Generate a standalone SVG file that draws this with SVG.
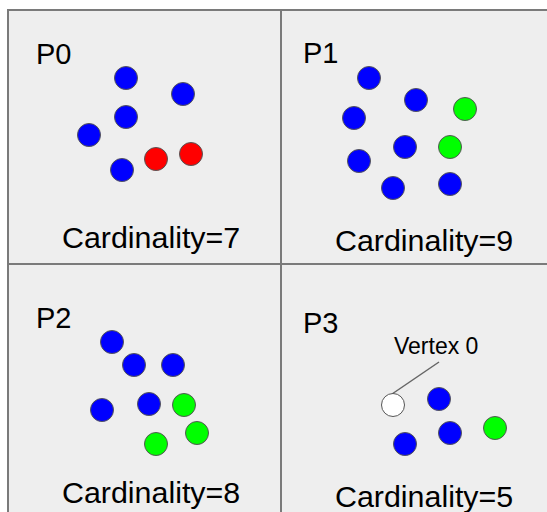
<svg xmlns="http://www.w3.org/2000/svg" width="547" height="512" viewBox="0 0 547 512">
<style>
.frame{fill:#eeeeee;stroke:#7a7a7a;stroke-width:2}
.div{stroke:#7a7a7a;stroke-width:2;fill:none}
.v{stroke:#555555;stroke-width:1}
.b{fill:#0000ff}
.r{fill:#ff0000}
.g{fill:#00ff00}
.w{fill:#ffffff}
.lbl{font-family:"Liberation Sans",Arial,sans-serif;font-size:29px;fill:#000}
.card{font-family:"Liberation Sans",Arial,sans-serif;font-size:30.4px;fill:#000}
.note{font-family:"Liberation Sans",Arial,sans-serif;font-size:23px;fill:#000}
.lead{stroke:#666666;stroke-width:1.5;fill:none}
</style>
<rect x="0" y="0" width="547" height="512" fill="#ffffff"/>
<rect class="frame" x="8" y="10" width="560" height="520"/>
<g id="dividers">
<line class="div" x1="281" y1="10" x2="281" y2="530"/>
<line class="div" x1="8" y1="264" x2="560" y2="264"/>
</g>
<g id="P0">
<text class="lbl" x="36" y="64">P0</text>
<circle class="v b" cx="126" cy="78" r="11.5"/>
<circle class="v b" cx="183" cy="94" r="11.5"/>
<circle class="v b" cx="126" cy="117" r="11.5"/>
<circle class="v b" cx="89" cy="135" r="11.5"/>
<circle class="v b" cx="122" cy="170" r="11.5"/>
<circle class="v r" cx="156" cy="159" r="11.5"/>
<circle class="v r" cx="191" cy="154" r="11.5"/>
<text class="card" x="62" y="248">Cardinality=7</text>
</g>
<g id="P1">
<text class="lbl" x="303" y="63">P1</text>
<circle class="v b" cx="369" cy="78" r="11.5"/>
<circle class="v b" cx="416" cy="100" r="11.5"/>
<circle class="v b" cx="354" cy="118" r="11.5"/>
<circle class="v b" cx="405" cy="147" r="11.5"/>
<circle class="v b" cx="359" cy="161" r="11.5"/>
<circle class="v b" cx="393" cy="188" r="11.5"/>
<circle class="v b" cx="450" cy="184" r="11.5"/>
<circle class="v g" cx="465" cy="109" r="11.5"/>
<circle class="v g" cx="450" cy="147" r="11.5"/>
<text class="card" x="335" y="251">Cardinality=9</text>
</g>
<g id="P2">
<text class="lbl" x="36" y="328">P2</text>
<circle class="v b" cx="112" cy="342" r="11.5"/>
<circle class="v b" cx="134" cy="365" r="11.5"/>
<circle class="v b" cx="173" cy="365" r="11.5"/>
<circle class="v b" cx="102" cy="410" r="11.5"/>
<circle class="v b" cx="149" cy="404" r="11.5"/>
<circle class="v g" cx="184" cy="405" r="11.5"/>
<circle class="v g" cx="197" cy="433" r="11.5"/>
<circle class="v g" cx="156" cy="444" r="11.5"/>
<text class="card" x="62" y="503">Cardinality=8</text>
</g>
<g id="P3">
<text class="lbl" x="303" y="333">P3</text>
<text class="note" x="394" y="354">Vertex 0</text>
<line class="lead" x1="439" y1="362" x2="392" y2="394"/>
<circle class="v w" cx="393" cy="405" r="11.5"/>
<circle class="v b" cx="439" cy="399" r="11.5"/>
<circle class="v b" cx="450" cy="433" r="11.5"/>
<circle class="v b" cx="405" cy="444" r="11.5"/>
<circle class="v g" cx="495" cy="428" r="11.5"/>
<text class="card" x="335" y="507">Cardinality=5</text>
</g>
</svg>
